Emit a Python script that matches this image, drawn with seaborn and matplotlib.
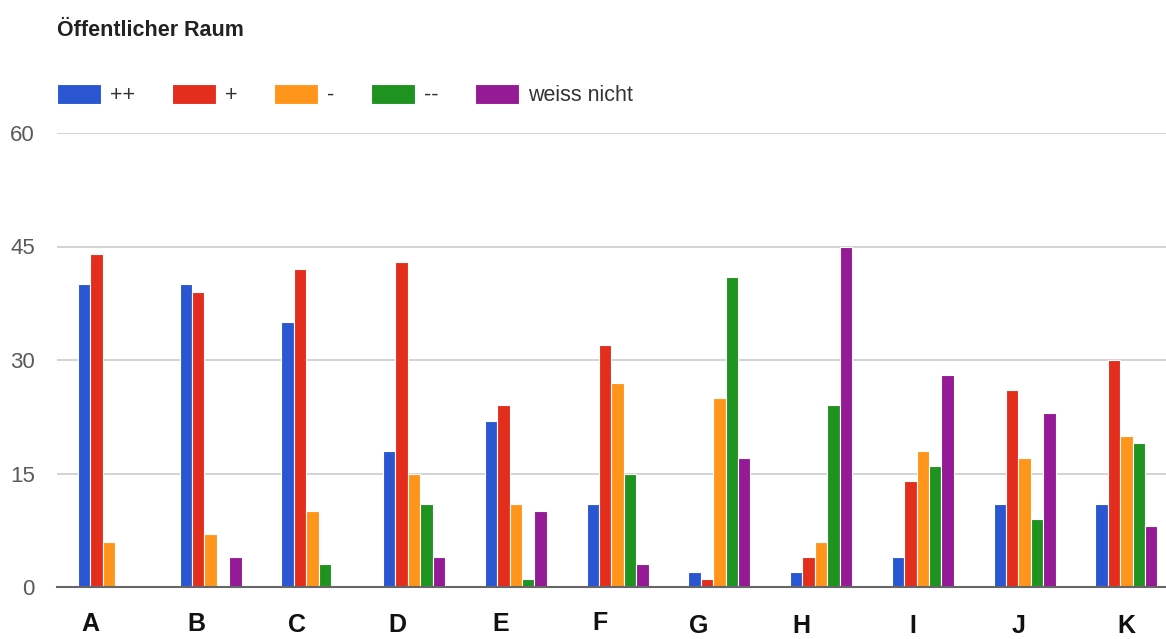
import matplotlib
matplotlib.use("Agg")
import matplotlib.pyplot as plt
import seaborn as sns
import pandas as pd

categories = ["A", "B", "C", "D", "E", "F", "G", "H", "I", "J", "K"]
series_names = ["++", "+", "-", "--", "weiss nicht"]
vals_pp = [40, 40, 35, 18, 22, 11, 2, 2, 4, 11, 11]
vals_p = [44, 39, 42, 43, 24, 32, 1, 4, 14, 26, 30]
vals_m = [6, 7, 10, 15, 11, 27, 25, 6, 18, 17, 20]
vals_mm = [0, 0, 3, 11, 1, 15, 41, 24, 16, 9, 19]
vals_wn = [0, 4, 0, 4, 10, 3, 17, 45, 28, 23, 8]
y_ticks = [0, 15, 30, 45, 60]
colors = ["#2A56D2", "#E42E1D", "#FF961B", "#1E9320", "#951A95"]

# per-label nudges (points) for the category captions under the groups
label_dx = [-13, -10, -11, -12, -11, -13, -15, -14, -7, -4, 0]
label_dy = [-31.7, -31.7, -32.4, -32.4, -31.7, -31.0, -33.1, -33.1, -33.1, -33.1, -33.1]

series_values = [vals_pp, vals_p, vals_m, vals_mm, vals_wn]
rows = []
for name, vals in zip(series_names, series_values):
    for cat, v in zip(categories, vals):
        rows.append({"Kategorie": cat, "Bewertung": name, "Anzahl": v})
df = pd.DataFrame(rows)

sns.set_theme(style="white")
plt.rcParams["font.family"] = ["Liberation Sans", "DejaVu Sans"]

W, H = 1166, 639
fig = plt.figure(figsize=(W / 100, H / 100), dpi=100)
ax = fig.add_axes([57 / W, (H - 587) / H, (W - 57) / W, (587 - 133) / H])

sns.barplot(
    data=df, x="Kategorie", y="Anzahl", hue="Bewertung",
    order=categories, hue_order=series_names, palette=colors,
    width=0.61, edgecolor="white", linewidth=0.8, saturation=1,
    errorbar=None, ax=ax,
)

ax.set_ylim(0, 60)
ax.set_xlim(-0.51, 10.39)
ax.set_yticks(y_ticks)
ax.set_yticklabels([str(t) for t in y_ticks], fontsize=16, color="#5a5a5a")
ax.tick_params(axis="y", length=0, pad=16)
ax.set_xticks([])
ax.set_xlabel("")
ax.set_ylabel("")
ax.yaxis.grid(True, color="#d0d0d0", linewidth=1.3)
ax.set_axisbelow(True)
for side in ["top", "right", "left"]:
    ax.spines[side].set_visible(False)
ax.spines["bottom"].set_color("#666666")
ax.spines["bottom"].set_linewidth(1.5)
ax.spines["bottom"].set_zorder(5)

trans = matplotlib.transforms.blended_transform_factory(ax.transData, ax.transAxes)
for i, cat in enumerate(categories):
    ax.annotate(cat, xy=(i, 0), xycoords=trans,
                xytext=(label_dx[i], label_dy[i]), textcoords="offset points",
                ha="center", va="baseline", fontsize=18, fontweight="bold",
                color="#111111", annotation_clip=False)

handles, labels = ax.get_legend_handles_labels()
ax.legend(
    handles, labels, loc="upper left", ncol=5, frameon=False,
    bbox_to_anchor=(57 / W, 1 - 84 / H), bbox_transform=fig.transFigure,
    fontsize=15.5, borderpad=0, borderaxespad=0,
    handlelength=2.05, handleheight=1.02, handletextpad=0.4,
    columnspacing=1.72, labelcolor="#333333",
)

fig.text(57 / W, 1 - 31 / H, "Öffentlicher Raum", fontsize=15.5,
         fontweight="bold", color="#222222", va="center", ha="left")

fig.savefig("out.png", dpi=100)
